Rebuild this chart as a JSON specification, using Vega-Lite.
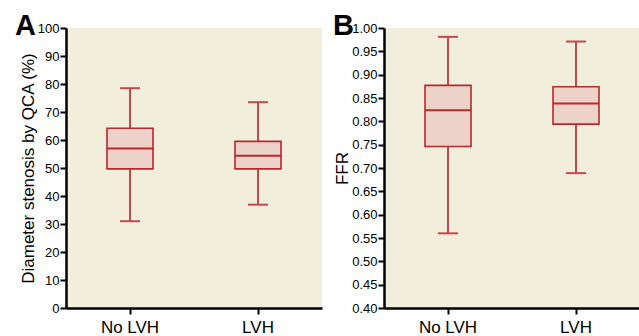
{
  "$schema": "https://vega.github.io/schema/vega-lite/v6.json",
  "padding": {"left": 15, "top": 12, "right": 0, "bottom": 0},
  "background": "white",
  "datasets": {
    "qca": [
      {"group": "No LVH", "min": 31, "q1": 49.7, "median": 57, "q3": 64.2, "max": 78.5},
      {"group": "LVH", "min": 36.9, "q1": 49.7, "median": 54.4, "q3": 59.5, "max": 73.5}
    ],
    "ffr": [
      {"group": "No LVH", "min": 0.56, "q1": 0.746, "median": 0.824, "q3": 0.877, "max": 0.981},
      {"group": "LVH", "min": 0.689, "q1": 0.794, "median": 0.838, "q3": 0.874, "max": 0.971}
    ]
  },
  "config": {
    "view": {"fill": "#F2EEDC", "stroke": null},
    "font": "Liberation Sans",
    "title": {"anchor": "start", "frame": "group", "fontSize": 29, "fontWeight": "bold", "font": "Liberation Sans", "color": "black", "baseline": "alphabetic", "offset": 0, "dx": -51},
    "axis": {
      "grid": false,
      "domainColor": "black",
      "domainWidth": 2.5,
      "tickColor": "black",
      "tickWidth": 2,
      "tickSize": 6,
      "labelColor": "black",
      "titleColor": "black",
      "titleFontWeight": "normal",
      "titleFontSize": 17,
      "titleFont": "Liberation Sans",
      "labelOverlap": false
    },
    "axisY": {"labelFontSize": 13, "labelFont": "Liberation Sans", "labelPadding": 1, "titlePadding": 0},
    "axisX": {"labelFontSize": 17, "labelPadding": 5, "labelAngle": 0, "title": null}
  },
  "spacing": 11,
  "resolve": {"scale": {"y": "independent"}},
  "hconcat": [
    {
      "width": 256,
      "height": 280,
      "title": {"text": "A", "dy": 23},
      "data": {"name": "qca"},
      "encoding": {
        "x": {"field": "group", "type": "nominal", "sort": ["No LVH", "LVH"], "scale": {"paddingInner": 0, "paddingOuter": 0}, "axis": {"title": null}}
      },
      "layer": [
        {
          "mark": {"type": "rule", "color": "#C34A4C", "strokeWidth": 2},
          "encoding": {
            "y": {"field": "min", "type": "quantitative", "scale": {"domain": [0, 100], "nice": false}, "axis": {"title": "Diameter stenosis by QCA (%)", "values": [0, 10, 20, 30, 40, 50, 60, 70, 80, 90, 100]}},
            "y2": {"field": "max"}
          }
        },
        {
          "mark": {"type": "bar", "size": 46, "fill": "#EDD2C9", "stroke": "#BA272D", "strokeWidth": 1.6},
          "encoding": {"y": {"field": "q1", "type": "quantitative", "axis": {"title": "Diameter stenosis by QCA (%)", "values": [0, 10, 20, 30, 40, 50, 60, 70, 80, 90, 100]}}, "y2": {"field": "q3"}}
        },
        {
          "mark": {"type": "tick", "size": 46, "thickness": 2, "color": "#BA272D", "opacity": 1},
          "encoding": {"y": {"field": "median", "type": "quantitative", "axis": {"title": "Diameter stenosis by QCA (%)", "values": [0, 10, 20, 30, 40, 50, 60, 70, 80, 90, 100]}}}
        },
        {
          "mark": {"type": "tick", "size": 20, "thickness": 2, "color": "#C34A4C", "opacity": 1},
          "encoding": {"y": {"field": "min", "type": "quantitative", "axis": {"title": "Diameter stenosis by QCA (%)", "values": [0, 10, 20, 30, 40, 50, 60, 70, 80, 90, 100]}}}
        },
        {
          "mark": {"type": "tick", "size": 20, "thickness": 2, "color": "#C34A4C", "opacity": 1},
          "encoding": {"y": {"field": "max", "type": "quantitative", "axis": {"title": "Diameter stenosis by QCA (%)", "values": [0, 10, 20, 30, 40, 50, 60, 70, 80, 90, 100]}}}
        }
      ]
    },
    {
      "width": 256,
      "height": 280,
      "title": {"text": "B", "dy": 23},
      "data": {"name": "ffr"},
      "encoding": {
        "x": {"field": "group", "type": "nominal", "sort": ["No LVH", "LVH"], "scale": {"paddingInner": 0, "paddingOuter": 0}, "axis": {"title": null}}
      },
      "layer": [
        {
          "mark": {"type": "rule", "color": "#C34A4C", "strokeWidth": 2},
          "encoding": {
            "y": {"field": "min", "type": "quantitative", "scale": {"domain": [0.4, 1.0], "nice": false, "zero": false}, "axis": {"title": "FFR", "format": ".2f", "values": [0.4, 0.45, 0.5, 0.55, 0.6, 0.65, 0.7, 0.75, 0.8, 0.85, 0.9, 0.95, 1.0]}},
            "y2": {"field": "max"}
          }
        },
        {
          "mark": {"type": "bar", "size": 46, "fill": "#EDD2C9", "stroke": "#BA272D", "strokeWidth": 1.6},
          "encoding": {"y": {"field": "q1", "type": "quantitative", "axis": {"title": "FFR", "format": ".2f", "values": [0.4, 0.45, 0.5, 0.55, 0.6, 0.65, 0.7, 0.75, 0.8, 0.85, 0.9, 0.95, 1.0]}}, "y2": {"field": "q3"}}
        },
        {
          "mark": {"type": "tick", "size": 46, "thickness": 2, "color": "#BA272D", "opacity": 1},
          "encoding": {"y": {"field": "median", "type": "quantitative", "axis": {"title": "FFR", "format": ".2f", "values": [0.4, 0.45, 0.5, 0.55, 0.6, 0.65, 0.7, 0.75, 0.8, 0.85, 0.9, 0.95, 1.0]}}}
        },
        {
          "mark": {"type": "tick", "size": 20, "thickness": 2, "color": "#C34A4C", "opacity": 1},
          "encoding": {"y": {"field": "min", "type": "quantitative", "axis": {"title": "FFR", "format": ".2f", "values": [0.4, 0.45, 0.5, 0.55, 0.6, 0.65, 0.7, 0.75, 0.8, 0.85, 0.9, 0.95, 1.0]}}}
        },
        {
          "mark": {"type": "tick", "size": 20, "thickness": 2, "color": "#C34A4C", "opacity": 1},
          "encoding": {"y": {"field": "max", "type": "quantitative", "axis": {"title": "FFR", "format": ".2f", "values": [0.4, 0.45, 0.5, 0.55, 0.6, 0.65, 0.7, 0.75, 0.8, 0.85, 0.9, 0.95, 1.0]}}}
        }
      ]
    }
  ]
}
